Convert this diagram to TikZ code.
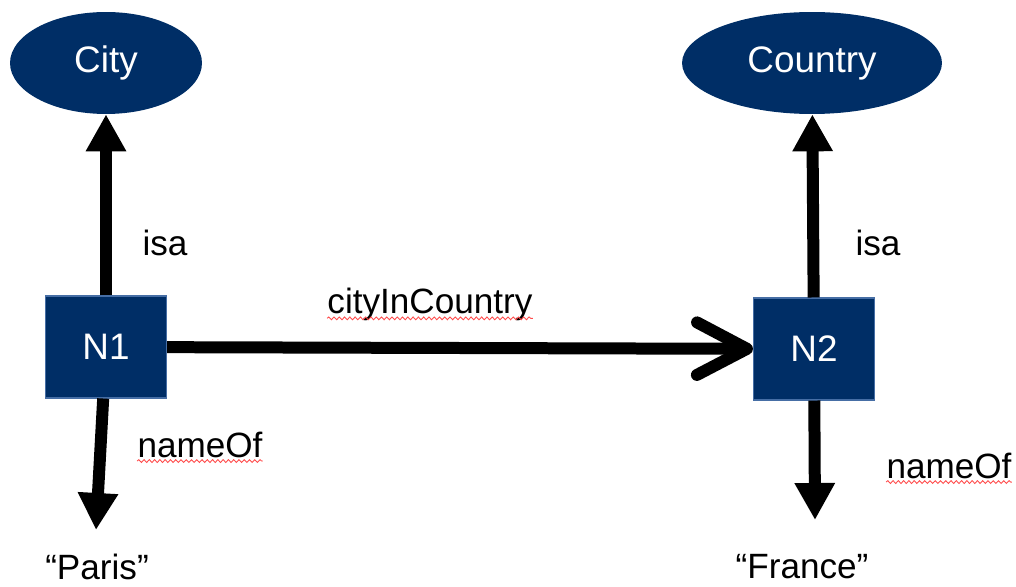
\documentclass[tikz,border=0pt]{standalone}
\usepackage{fontspec}
\setmainfont{Liberation Sans}
\usepackage{tikz}
\usepackage{xcolor}
\usetikzlibrary{arrows.meta,shapes.geometric,decorations.pathmorphing}
\definecolor{navy}{RGB}{0,46,102}
\definecolor{navyedge}{RGB}{70,110,165}

\begin{document}
\begin{tikzpicture}[x=0.02cm,y=-0.02cm,
  cls/.style={ellipse,fill=navy,text=white,inner sep=0pt,minimum height=2.04cm,font=\fontsize{21}{25}\selectfont},
  inst/.style={rectangle,fill=navy,draw=navyedge,line width=0.6pt,text=white,minimum width=2.42cm,minimum height=2.04cm,font=\fontsize{21}{25}\selectfont},
  lbl/.style={inner sep=0pt,font=\fontsize{20}{24}\selectfont},
  isaarrow/.style={line width=0.24cm,-{Triangle[length=0.74cm,width=0.76cm]}},
  relarrow/.style={line width=0.24cm,-{Straight Barb[length=1cm,width=1.05cm,round]}},
  squiggle/.style={draw=red!70,line width=0.5pt,decorate,decoration={snake,amplitude=0.8pt,segment length=3pt}}]
\useasboundingbox (0,0) rectangle (1016,587);
\node[cls,minimum width=3.84cm] (city) at (106,63) {City};
\node[cls,minimum width=5.2cm] (country) at (812,63) {Country};
\node[inst] (n1) at (106,347) {N1};
\node[inst] (n2) at (814,349) {N2};
\node[lbl] (paris) at (97,567) {“Paris”};
\node[lbl] (france) at (802,567) {“France”};
\coordinate (paristip) at (96,530);
\coordinate (francetip) at (815,520);
\draw[isaarrow] (n1) -- (city);
\draw[isaarrow] (n2) -- (country);
\draw[isaarrow] (n1) -- (paristip);
\draw[isaarrow] (n2) -- (francetip);
\draw[relarrow] (n1) -- (n2);
\node[lbl] (isa1) at (165,243) {isa};
\node[lbl] (isa2) at (878,243) {isa};
\node[lbl] (cic) at (430,304) {cityInCountry};
\node[lbl] (nm1) at (200,445) {nameOf};
\node[lbl] (nm2) at (949,466) {nameOf};
\draw[squiggle] ([yshift=-3pt]cic.base west) -- ([yshift=-3pt]cic.base east);
\draw[squiggle] ([yshift=-2pt]nm1.base west) -- ([yshift=-2pt]nm1.base east);
\draw[squiggle] ([yshift=-2pt]nm2.base west) -- ([yshift=-2pt]nm2.base east);
\end{tikzpicture}
\end{document}
